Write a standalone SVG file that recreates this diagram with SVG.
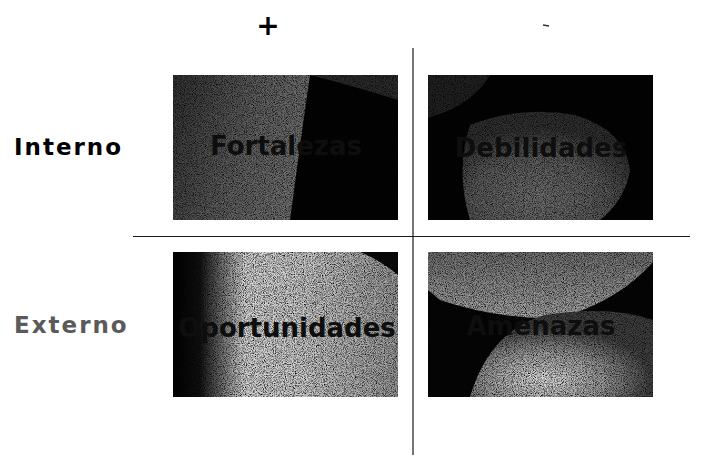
<svg xmlns="http://www.w3.org/2000/svg" width="701" height="457" viewBox="0 0 701 457">
<style>
.lbl{font-family:"DejaVu Sans",Verdana,sans-serif;font-weight:bold;font-size:23px;letter-spacing:2px}
.box{font-family:"DejaVu Sans",Verdana,sans-serif;font-weight:bold;font-size:26px;text-anchor:middle;fill:#0e0e0e}
.axis{stroke:#1a1a1a;stroke-width:1.2;fill:none}
</style>
<defs>
<filter id="grain" x="0" y="0" width="100%" height="100%" color-interpolation-filters="sRGB">
<feTurbulence type="fractalNoise" baseFrequency="1.1" numOctaves="1" seed="7" result="n"/>
<feColorMatrix in="n" type="matrix" values="0.33 0.33 0.33 0 0 0.33 0.33 0.33 0 0 0.33 0.33 0.33 0 0 0 0 0 0 1" result="g"/>
<feComponentTransfer in="g" result="c">
<feFuncR type="linear" slope="4" intercept="-1.2"/>
<feFuncG type="linear" slope="4" intercept="-1.2"/>
<feFuncB type="linear" slope="4" intercept="-1.2"/>
</feComponentTransfer>
<feBlend in="SourceGraphic" in2="c" mode="multiply" result="b"/>
<feComposite in="b" in2="SourceGraphic" operator="in"/>
</filter>
<clipPath id="c1"><rect x="173" y="75" width="225" height="145"/></clipPath>
<clipPath id="c2"><rect x="428" y="75" width="225" height="145"/></clipPath>
<clipPath id="c3"><rect x="173" y="252" width="225" height="145"/></clipPath>
<clipPath id="c4"><rect x="428" y="252" width="225" height="145"/></clipPath>
<linearGradient id="g1" x1="0" y1="0" x2="1" y2="0.3">
<stop offset="0" stop-color="#303030"/><stop offset="0.6" stop-color="#606060"/><stop offset="1" stop-color="#707070"/>
</linearGradient>
<radialGradient id="g2" cx="0.45" cy="0.8" r="0.65">
<stop offset="0" stop-color="#707070"/><stop offset="0.6" stop-color="#5a5a5a"/><stop offset="1" stop-color="#303030"/>
</radialGradient>
<linearGradient id="g3" x1="0" y1="0" x2="1" y2="0">
<stop offset="0" stop-color="#000"/><stop offset="0.12" stop-color="#111"/><stop offset="0.32" stop-color="#d8d8d8"/><stop offset="0.6" stop-color="#cccccc"/><stop offset="1" stop-color="#9a9a9a"/>
</linearGradient>
<linearGradient id="g4a" x1="0" y1="0" x2="0" y2="1">
<stop offset="0" stop-color="#707070"/><stop offset="1" stop-color="#a8a8a8"/>
</linearGradient>
<radialGradient id="g4b" cx="0.4" cy="0.8" r="0.6">
<stop offset="0" stop-color="#e0e0e0"/><stop offset="0.55" stop-color="#9a9a9a"/><stop offset="1" stop-color="#404040"/>
</radialGradient>
</defs>

<g id="axes">
<line class="axis" x1="413" y1="48" x2="413" y2="455"/>
<line class="axis" x1="133" y1="236.5" x2="690" y2="236.5"/>
</g>

<g id="plus"><text x="268" y="35" style="font-family:'DejaVu Sans',sans-serif;font-weight:bold;font-size:28px;text-anchor:middle" fill="#000">+</text></g>
<g id="minus"><line x1="543" y1="25" x2="549" y2="26" stroke="#333" stroke-width="1.5"/></g>

<g id="interno"><text class="lbl" x="14" y="155" fill="#000">Interno</text></g>
<g id="externo"><text class="lbl" x="14" y="333" fill="#5a5a5a">Externo</text></g>

<g id="fortalezas">
<g clip-path="url(#c1)">
<g filter="url(#grain)">
<rect x="173" y="75" width="225" height="145" fill="#030303"/>
<path d="M173 75 L310 75 Q302 130 290 220 L173 220 Z" fill="url(#g1)"/>
<path d="M310 75 L398 75 L398 100 Q350 85 310 75 Z" fill="#2c2c2c"/>
</g>
</g>
<text class="box" x="286" y="155">Fortalezas</text>
</g>

<g id="debilidades">
<g clip-path="url(#c2)">
<g filter="url(#grain)">
<rect x="428" y="75" width="225" height="145" fill="#030303"/>
<path d="M428 75 L490 75 Q475 100 445 112 L428 118 Z" fill="#222"/>
<path d="M470 125 Q520 105 575 115 Q625 130 630 170 Q625 200 600 220 L470 220 Q455 170 470 125 Z" fill="url(#g2)"/>
</g>
</g>
<text class="box" x="541" y="157">Debilidades</text>
</g>

<g id="oportunidades">
<g clip-path="url(#c3)">
<g filter="url(#grain)">
<rect x="173" y="252" width="225" height="145" fill="url(#g3)"/>
<path d="M360 252 L398 252 L398 275 Q380 260 360 252 Z" fill="#0a0a0a"/>
</g>
</g>
<text class="box" x="287" y="337">Oportunidades</text>
</g>

<g id="amenazas">
<g clip-path="url(#c4)">
<g filter="url(#grain)">
<rect x="428" y="252" width="225" height="145" fill="#050505"/>
<path d="M428 252 L653 252 L653 262 Q620 300 560 318 Q500 320 440 300 L428 290 Z" fill="url(#g4a)"/>
<path d="M470 397 Q490 330 545 315 Q610 305 653 320 L653 397 Z" fill="url(#g4b)"/>
</g>
</g>
<text class="box" x="541" y="335">Amenazas</text>
</g>
</svg>
